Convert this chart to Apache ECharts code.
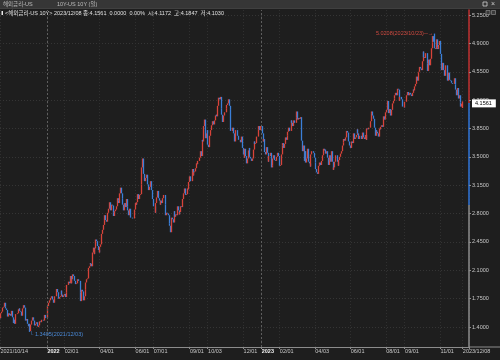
<!DOCTYPE html>
<html><head><meta charset="utf-8">
<script src="https://cdn.jsdelivr.net/npm/echarts@6/dist/echarts.min.js"></script>
<style>html,body{margin:0;padding:0;background:#1e1e1e;}#c{width:500px;height:360px;}</style>
</head><body><div id="c"></div>
<script>
// ---- data ----
const startDate = '2021-10-14', endDate = '2023-12-08';
const firstOpen = 1.53;
const closes2021 = [
 1.51,1.57,1.59,1.64,1.65,1.70,1.65,1.63,1.61,1.53,1.57,1.55,
 1.56,1.54,1.60,1.52,1.45,1.49,1.44,1.56,1.56,1.57,1.62,1.63,1.60,1.59,1.54,1.63,1.67,1.64,1.64,1.48,1.50,1.44,
 1.41,1.44,1.35,1.43,1.48,1.52,1.49,1.48,1.42,1.44,1.46,1.41,1.40,1.42,1.47,1.46,1.49,1.49,1.48,1.48,1.55,1.51,1.51
];
const closes2022 = [
 1.63,1.66,1.70,1.73,1.76,1.78,1.74,1.74,1.70,1.78,1.78,1.87,1.83,1.83,1.75,1.77,1.78,1.85,1.80,1.77,1.79,
 1.81,1.77,1.83,1.92,1.92,1.96,1.94,2.03,1.94,1.99,2.05,2.03,1.97,1.93,1.93,1.94,1.99,1.97,1.97,1.83,
 1.72,1.86,1.84,1.73,1.78,1.86,1.95,1.99,2.00,2.13,2.15,2.19,2.18,2.15,2.32,2.38,2.30,2.37,2.48,2.46,2.40,2.35,2.32,
 2.39,2.42,2.55,2.60,2.66,2.72,2.78,2.72,2.70,2.81,2.81,2.86,2.94,2.84,2.91,2.90,2.81,2.77,2.83,2.85,2.89,
 2.99,2.96,2.93,3.05,3.12,3.05,2.99,2.91,2.84,2.93,2.88,2.98,2.89,2.84,2.78,2.86,2.75,2.75,2.75,2.74,2.74,2.85,
 2.93,2.91,2.94,3.04,2.98,3.03,3.04,3.16,3.37,3.48,3.29,3.20,3.24,3.24,3.28,3.16,3.09,3.13,3.20,3.20,3.09,2.98,
 2.89,2.89,2.81,2.93,3.00,3.08,2.99,2.96,2.91,2.96,2.93,2.99,3.03,3.03,2.91,2.78,2.81,2.80,2.78,2.68,2.65,
 2.57,2.75,2.73,2.69,2.83,2.76,2.79,2.78,2.89,2.84,2.79,2.82,2.89,2.88,2.98,3.03,3.05,3.11,3.03,3.04,3.11,3.10,3.19,
 3.26,3.20,3.20,3.35,3.27,3.31,3.32,3.36,3.42,3.41,3.45,3.45,3.49,3.57,3.51,3.71,3.69,3.88,3.96,3.73,3.79,3.83,
 3.65,3.62,3.76,3.83,3.89,3.89,3.94,3.90,3.95,4.01,4.02,4.00,4.13,4.23,4.21,4.24,4.10,4.02,3.93,4.01,4.05,
 4.05,4.10,4.14,4.16,4.21,4.13,4.09,3.82,3.82,3.86,3.79,3.69,3.77,3.83,3.83,3.76,3.71,3.71,3.68,3.68,3.75,3.61,
 3.53,3.49,3.60,3.51,3.42,3.48,3.58,3.61,3.50,3.48,3.45,3.48,3.59,3.69,3.66,3.67,3.75,3.75,3.84,3.88,3.83,3.88
];
const closes2023 = [
 3.88,3.79,3.69,3.72,3.56,3.53,3.62,3.55,3.44,3.51,3.51,3.55,3.37,3.39,3.48,3.52,3.46,3.45,3.50,3.52,3.55,3.51,
 3.39,3.40,3.53,3.64,3.67,3.61,3.66,3.74,3.71,3.76,3.81,3.86,3.82,3.82,3.95,3.92,3.88,3.95,3.92,3.92,
 3.99,4.06,3.96,3.98,3.97,3.99,3.93,3.70,3.57,3.64,3.45,3.57,3.43,3.48,3.60,3.44,3.42,3.38,3.53,3.57,3.57,3.55,3.49,
 3.43,3.35,3.31,3.29,3.39,3.41,3.43,3.40,3.45,3.52,3.60,3.58,3.59,3.54,3.57,3.49,3.40,3.45,3.52,3.44,
 3.57,3.44,3.34,3.37,3.44,3.52,3.52,3.44,3.39,3.46,3.50,3.54,3.57,3.64,3.68,3.72,3.70,3.74,3.82,3.80,3.80,3.69,3.64,
 3.61,3.69,3.69,3.67,3.79,3.72,3.74,3.77,3.84,3.79,3.72,3.76,3.76,3.72,3.72,3.80,3.74,3.72,3.77,3.71,3.85,3.84,
 3.86,3.86,3.94,4.04,4.06,4.01,3.97,3.86,3.76,3.83,3.81,3.79,3.75,3.85,3.84,3.87,3.89,3.87,4.00,3.96,3.97,
 4.05,4.08,4.19,4.04,4.09,4.03,4.01,4.08,4.16,4.19,4.22,4.26,4.29,4.26,4.34,4.33,4.19,4.24,4.24,4.21,4.12,4.12,4.11,
 4.18,4.18,4.26,4.30,4.26,4.26,4.29,4.27,4.25,4.29,4.33,4.32,4.37,4.40,4.49,4.44,4.54,4.55,4.61,4.59,4.57,
 4.68,4.80,4.73,4.72,4.78,4.78,4.65,4.56,4.70,4.63,4.71,4.84,4.91,4.99,4.92,4.84,4.83,4.95,4.85,4.83,4.88,4.93,
 4.77,4.67,4.57,4.66,4.57,4.50,4.63,4.63,4.63,4.44,4.54,4.45,4.44,4.42,4.41,4.40,4.40,4.47,4.39,4.33,4.26,4.35,
 4.22,4.26,4.17,4.12,4.1561,4.1561
];
const lastBar = {open: 4.1172, close: 4.1561, low: 4.1030, high: 4.1847};
const highMark = {date: '2023/10/23', value: 5.0208};
const lowMark = {date: '2021/12/03', value: 1.3405};
const yTicks = [1.40,1.75,2.10,2.45,2.80,3.15,3.50,3.85,4.20,4.55,4.90,5.25];
const xTickDates = ['2021/10/14','2022/01/03','2022/02/01','2022/04/01','2022/06/01','2022/07/01','2022/09/01','2022/10/03','2022/12/01','2023/01/02','2023/02/01','2023/04/03','2023/06/01','2023/08/01','2023/09/01','2023/11/01','2023/12/08'];
const xTickTexts = ['2021/10/14','2022','02/01','04/01','06/01','07/01','09/01','10/03','12/01','2023','02/01','04/03','06/01','08/01','09/01','11/01','2023/12/08'];
const yearDates = ['2022/01/03','2023/01/02'];
const headerTitle = '해외금리-US', headerSub = '10Y-US 10Y (일)';
const infoLine = '<해외금리-US 10Y> 2023/12/08 종:4.1561  0.0000  0.00%  시:4.1172  고:4.1847  저:4.1030';

// ---- build ----
function weekdays(a, b) {
  const out = []; let d = new Date(a + 'T00:00:00Z'); const e = new Date(b + 'T00:00:00Z');
  while (d <= e) {
    const w = d.getUTCDay();
    if (w > 0 && w < 6) out.push(d.getUTCFullYear() + '/' + String(d.getUTCMonth()+1).padStart(2,'0') + '/' + String(d.getUTCDate()).padStart(2,'0'));
    d = new Date(d.getTime() + 86400000);
  }
  return out;
}
const dates = weekdays(startDate, endDate);
const closes = closes2021.concat(closes2022, closes2023);
const candles = closes.map((c, i) => { const o = i === 0 ? firstOpen : closes[i-1]; return [o, c, Math.min(o, c), Math.max(o, c)]; });
const nLast = candles.length - 1;
candles[nLast] = [lastBar.open, lastBar.close, lastBar.low, lastBar.high];
const hi = dates.indexOf(highMark.date); if (hi >= 0) candles[hi][3] = Math.max(candles[hi][3], highMark.value);
const lo = dates.indexOf(lowMark.date); if (lo >= 0) candles[lo][2] = Math.min(candles[lo][2], lowMark.value);
const pad = ['p1','p2','p3','p4','p5','p6','p7'];
const categories = dates.concat(pad);
const tickIdx = new Set(xTickDates.map(d => dates.indexOf(d)));
const tickText = {}; xTickDates.forEach((d, i) => tickText[d] = xTickTexts[i]);

const yMin = 1.154, yMax = 5.312;
const UP = '#d8433a', DOWN = '#3b7fd8';
const fr = (v) => (yMax - v) / (yMax - yMin);
const fRed = fr(lastBar.close), fBlue = fr(2.906);
const axisGrad = new echarts.graphic.LinearGradient(0, 0, 0, 1, [
  {offset: 0, color: '#c03030'}, {offset: fRed, color: '#c03030'},
  {offset: fRed, color: '#2f74d8'}, {offset: fBlue, color: '#2f74d8'},
  {offset: fBlue, color: '#8c8c8c'}, {offset: 1, color: '#8c8c8c'}
]);
const FONT = '"Liberation Sans","Noto Sans CJK KR",sans-serif';
const FS = 5.5;

const chart = echarts.init(document.getElementById('c'), null, {renderer: 'canvas'});
chart.setOption({
  backgroundColor: '#1e1e1e',
  animation: false,
  textStyle: {fontFamily: FONT},
  grid: {left: 0, right: 31, top: 10, bottom: 13, containLabel: false, outerBoundsMode: 'none'},
  xAxis: {
    type: 'category', data: categories, boundaryGap: true,
    axisLine: {lineStyle: {color: '#8c8c8c', width: 1}},
    axisTick: {show: true, interval: (i) => tickIdx.has(i), length: 2, lineStyle: {color: '#8c8c8c'}},
    axisLabel: {
      interval: (i) => tickIdx.has(i), align: 'left', margin: 2, color: '#c8c8c8', fontSize: FS, fontFamily: FONT,
      formatter: (v) => { const t = tickText[v] || ''; return /^\d{4}$/.test(t) ? '{y|' + t + '}' : t; },
      rich: {y: {fontWeight: 'bold', color: '#f0f0f0', fontSize: FS, fontFamily: FONT}}
    },
    splitLine: {show: true, interval: (i) => tickIdx.has(i), lineStyle: {color: '#303030', type: [1, 2], width: 1}}
  },
  yAxis: {
    type: 'value', position: 'right', min: yMin, max: yMax, scale: true,
    axisLine: {show: true, lineStyle: {color: axisGrad, width: 1.5}},
    axisTick: {show: true, customValues: yTicks, length: 2, lineStyle: {color: '#8c8c8c'}},
    axisLabel: {customValues: yTicks, formatter: (v) => Number(v).toFixed(4), margin: 3, color: '#c8c8c8', fontSize: FS, fontFamily: FONT},
    splitLine: {show: true, lineStyle: {color: '#353535', type: [1, 2], width: 1}}
  },
  series: [{
    type: 'candlestick', data: candles, barWidth: 1,
    itemStyle: {color: UP, color0: DOWN, borderColor: UP, borderColor0: DOWN, borderWidth: 1.3},
    markPoint: {
      silent: true, animation: false,
      data: [
        {coord: [highMark.date, highMark.value], symbol: 'circle', symbolSize: 1, itemStyle: {color: 'rgba(0,0,0,0)'},
         label: {show: true, position: 'left', distance: 1, color: '#d04a40', fontSize: FS, fontFamily: FONT,
                 formatter: highMark.value.toFixed(4) + '(' + highMark.date + ')─→'}},
        {coord: [lowMark.date, lowMark.value], symbol: 'circle', symbolSize: 1, itemStyle: {color: 'rgba(0,0,0,0)'},
         label: {show: true, position: [0, 0], align: 'left', verticalAlign: 'top', color: '#4a8ad8', fontSize: FS, fontFamily: FONT,
                 formatter: '└ ' + lowMark.value.toFixed(4) + '(' + lowMark.date + ')'}}
      ]
    },
    markLine: {
      silent: true, symbol: 'none', animation: false,
      data: [
        {yAxis: lastBar.close, lineStyle: {color: 'rgba(0,0,0,0)', width: 1, type: 'solid'},
         label: {show: true, position: 'end', distance: 3, formatter: lastBar.close.toFixed(4), backgroundColor: '#ffffff', color: '#000000',
                 padding: [1.5, 4, 1, 3], fontSize: FS, fontFamily: FONT, opacity: 1}},
        {xAxis: yearDates[0], lineStyle: {color: '#5e5e5e', type: [2, 2], width: 1}, label: {show: false}},
        {xAxis: yearDates[1], lineStyle: {color: '#5e5e5e', type: [2, 2], width: 1}, label: {show: false}}
      ]
    }
  }],
  graphic: [
    {type: 'rect', z: 100, shape: {x: 0, y: 0, width: 500, height: 9}, style: {fill: '#363636'}},
    {type: 'rect', z: 100, shape: {x: 0, y: 8.5, width: 500, height: 0.5}, style: {fill: '#4a4a4a'}},
    {type: 'text', z: 101, x: 3, y: 4.5, style: {text: headerTitle, fill: '#bdbdbd', fontSize: FS, fontFamily: FONT, verticalAlign: 'middle'}},
    {type: 'text', z: 101, x: 57, y: 4.5, style: {text: headerSub, fill: '#bdbdbd', fontSize: FS, fontFamily: FONT, verticalAlign: 'middle'}},
    {type: 'rect', z: 101, shape: {x: 483, y: 2, width: 4, height: 4}, style: {fill: 'none', stroke: '#cfcfcf', lineWidth: 0.8}},
    {type: 'text', z: 101, x: 491, y: 4.5, style: {text: '×', fill: '#cfcfcf', fontSize: 7, fontFamily: FONT, verticalAlign: 'middle'}},
    {type: 'rect', z: 101, shape: {x: 1.5, y: 11, width: 1.5, height: 4}, style: {fill: '#e8e8e8'}},
    {type: 'text', z: 101, x: 5, y: 13.5, style: {text: infoLine, fill: '#e0e0e0', fontSize: FS, fontFamily: FONT, verticalAlign: 'middle'}},
    {type: 'rect', z: 101, shape: {x: 486, y: 10.5, width: 4, height: 4}, style: {fill: '#3a3a3a', stroke: '#9a9a9a', lineWidth: 0.6}},
    {type: 'rect', z: 101, shape: {x: 491.5, y: 10.5, width: 4, height: 4}, style: {fill: '#3a3a3a', stroke: '#9a9a9a', lineWidth: 0.6}},
    {type: 'rect', z: 50, shape: {x: 469, y: 346.5, width: 31, height: 1}, style: {fill: '#8c8c8c'}}
  ]
});
</script></body></html>
